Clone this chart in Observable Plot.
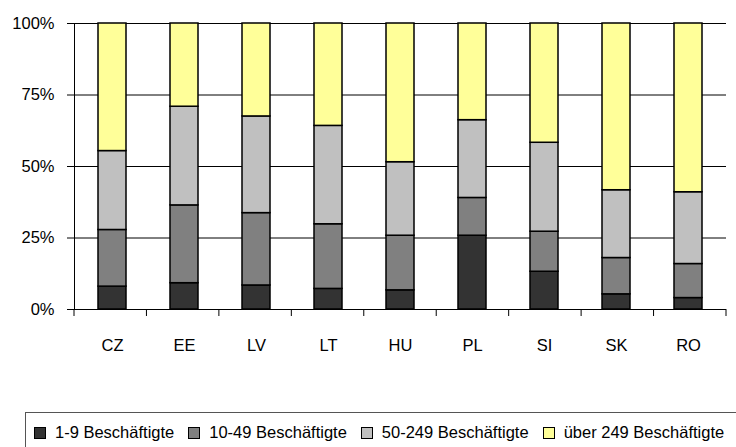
<!DOCTYPE html>
<html>
<head>
<meta charset="utf-8">
<script src="https://cdn.jsdelivr.net/npm/d3@7"></script>
<script src="https://cdn.jsdelivr.net/npm/@observablehq/plot@0.6"></script>
<style>
  html, body { margin: 0; padding: 0; background: #fff; }
  body { width: 736px; height: 447px; overflow: hidden; font-family: "Liberation Sans", Arial, sans-serif; }
  #chart svg { display: block; }
  .legend { position: relative; margin-top: 12px; margin-left: 25px; width: 740px; height: 60px;
            border-top: 1px solid #555; border-left: 1px solid #555; box-sizing: border-box;
            font-size: 16.5px; color: #000; }
  .legend .row { position: absolute; top: 10px; left: 8px; display: flex; align-items: center; white-space: nowrap; }
  .legend .item { display: flex; align-items: center; margin-right: 14px; }
  .legend .sw { width: 10px; height: 10px; border: 1px solid #000; margin-right: 9px; }
</style>
</head>
<body>
<div id="chart"></div>
<script>
const countries = ["CZ", "EE", "LV", "LT", "HU", "PL", "SI", "SK", "RO"];
const groups = ["1-9 Beschäftigte", "10-49 Beschäftigte", "50-249 Beschäftigte", "über 249 Beschäftigte"];
const colors = ["#333333", "#808080", "#c0c0c0", "#ffff99"];
// shares (%) per size class, per country
const micro  = [8.0, 9.2, 8.4, 7.2, 6.7, 25.8, 13.2, 5.3, 4.0];
const small  = [19.8, 27.2, 25.3, 22.6, 19.1, 13.2, 14.0, 12.7, 11.9];
const medium = [27.6, 34.5, 33.8, 34.4, 25.7, 27.2, 31.1, 23.7, 25.1];
const large  = [44.6, 29.1, 32.5, 35.8, 48.5, 33.8, 41.7, 58.3, 59.0];
const yTicks = [0, 0.25, 0.5, 0.75, 1];

const series = [micro, small, medium, large];
const data = [];
countries.forEach((c, i) => {
  groups.forEach((g, j) => data.push({country: c, group: g, value: series[j][i] / 100}));
});

const W = 736, H = 400, mL = 74, mR = 10, mT = 23, mB = 91;

function boundaryTicks(index, scales, values, dims) {
  const n = countries.length;
  const step = (dims.width - dims.marginLeft - dims.marginRight) / n;
  const y0 = dims.height - dims.marginBottom;
  const g = d3.create("svg:g").attr("stroke", "#000").attr("stroke-width", 1);
  for (let i = 0; i <= n; i++) {
    const x = dims.marginLeft + i * step;
    g.append("line").attr("x1", x).attr("x2", x).attr("y1", y0).attr("y2", y0 + 7);
  }
  return g.node();
}

const plot = Plot.plot({
  width: W, height: H,
  marginLeft: mL, marginRight: mR, marginTop: mT, marginBottom: mB,
  style: {fontFamily: "'Liberation Sans', Arial, sans-serif", fontSize: "16.5px", color: "#000", background: "#fff"},
  x: {domain: countries, paddingInner: 0.61, paddingOuter: 0.305, axis: null, label: null},
  y: {domain: [0, 1], axis: null, label: null},
  color: {domain: groups, range: colors},
  marks: [
    Plot.gridY(yTicks.filter(d => d > 0), {stroke: "#000", strokeOpacity: 1, strokeWidth: 1}),
    Plot.barY(data, {x: "country", y: "value", fill: "group", stroke: "#000", strokeWidth: 1.5, order: groups}),
    Plot.frame({anchor: "left", stroke: "#000"}),
    Plot.ruleY([0], {stroke: "#000"}),
    Plot.axisY({ticks: yTicks, tickFormat: d => Math.round(d * 100) + "%", tickSize: 7, tickPadding: 13, fontSize: 16.5, label: null}),
    Plot.axisX({tickSize: 0, tickPadding: 30, fontSize: 16.5, label: null}),
    boundaryTicks
  ]
});
document.getElementById("chart").appendChild(plot);

const legend = document.createElement("div");
legend.className = "legend";
const row = document.createElement("div");
row.className = "row";
groups.forEach((g, j) => {
  const item = document.createElement("div");
  item.className = "item";
  const sw = document.createElement("span");
  sw.className = "sw";
  sw.style.background = colors[j];
  const t = document.createElement("span");
  t.textContent = g;
  item.appendChild(sw);
  item.appendChild(t);
  row.appendChild(item);
});
legend.appendChild(row);
document.body.appendChild(legend);
</script>
</body>
</html>
